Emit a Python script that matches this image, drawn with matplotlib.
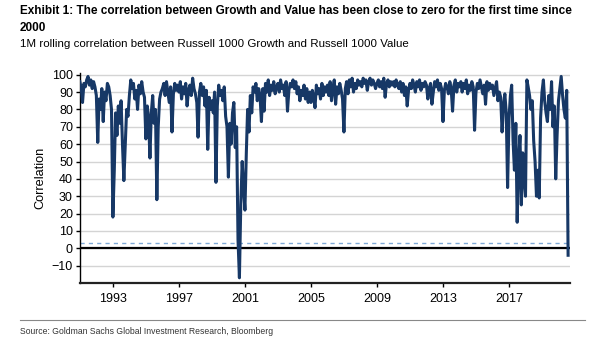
import numpy as np
import pandas as pd
import matplotlib.pyplot as plt
import matplotlib.dates as mdates
from matplotlib.lines import Line2D

# monthly readings of the 1M rolling correlation, Jan 1991 onwards
corr_1991_1999 = [
    96, 92, 84, 95, 93, 97, 99, 94, 97, 92, 96, 93,   # 1991
    88, 61, 86, 80, 92, 73, 90, 85, 95, 93, 88, 80,   # 1992
    18, 45, 78, 65, 82, 72, 85, 60, 39, 59, 80, 76,   # 1993
    88, 97, 92, 95, 86, 91, 80, 94, 89, 96, 90, 87,   # 1994
    63, 82, 75, 52, 78, 88, 72, 80, 28, 70, 86, 90,   # 1995
    92, 95, 88, 96, 90, 84, 93, 67, 89, 95, 91, 94,   # 1996
    90, 96, 86, 93, 89, 95, 82, 91, 94, 88, 98, 92,   # 1997
    89, 84, 64, 90, 95, 88, 93, 82, 91, 57, 87, 80,   # 1998
    85, 78, 90, 38, 82, 94, 88, 91, 85, 93, 76, 70,   # 1999
]
corr_2000_2009 = [
    41, 72, 60, 78, 84, 58, 70, 5, -17, 25, 50, 35,   # 2000
    22, 55, 80, 67, 88, 78, 93, 90, 95, 85, 92, 88,   # 2001
    73, 92, 79, 95, 90, 97, 88, 94, 91, 96, 89, 93,   # 2002
    95, 90, 97, 92, 94, 88, 96, 79, 91, 95, 93, 97,   # 2003
    92, 96, 89, 93, 85, 91, 88, 94, 86, 92, 84, 90,   # 2004
    84, 91, 87, 81, 94, 89, 92, 86, 95, 88, 93, 90,   # 2005
    94, 88, 96, 85, 92, 97, 83, 93, 89, 95, 91, 86,   # 2006
    67, 92, 96, 89, 97, 93, 98, 90, 95, 92, 97, 94,   # 2007
    96, 93, 98, 95, 97, 91, 96, 98, 94, 97, 95, 92,   # 2008
    95, 97, 93, 96, 92, 98, 87, 95, 97, 93, 96, 94,   # 2009
]
corr_2010_2020 = [
    96, 93, 97, 94, 92, 96, 90, 95, 88, 93, 82, 91,   # 2010
    95, 92, 97, 94, 90, 96, 93, 97, 91, 95, 93, 96,   # 2011
    94, 86, 92, 95, 83, 90, 96, 93, 97, 91, 95, 92,   # 2012
    73, 91, 95, 93, 89, 96, 92, 79, 94, 97, 90, 95,   # 2013
    93, 96, 90, 95, 92, 97, 89, 94, 91, 96, 93, 68,   # 2014
    90, 95, 92, 97, 93, 89, 94, 83, 96, 91, 95, 92,   # 2015
    94, 88, 92, 96, 85, 90, 87, 67, 82, 89, 78, 35,   # 2016
    75, 88, 94, 62, 45, 72, 15, 50, 65, 25, 55, 40,   # 2017
    30, 97, 93, 88, 80, 85, 62, 50, 30, 45, 29, 75,   # 2018
    90, 97, 85, 78, 73, 88, 80, 96, 70, 82, 40, 65,   # 2019
    85, 92, 99, 88, 80, 75, 91, -4,                   # 2020
]

corr = corr_1991_1999 + corr_2000_2009 + corr_2010_2020
dates = pd.date_range('1991-01-01', periods=len(corr), freq='MS')

tick_years = [1993, 1997, 2001, 2005, 2009, 2013, 2017]
y_ticks = [-10, 0, 10, 20, 30, 40, 50, 60, 70, 80, 90, 100]
dash_level = 3

plt.rcParams['font.family'] = ['Liberation Sans', 'DejaVu Sans']

fig = plt.figure(figsize=(6.05, 3.41), dpi=100)
ax = fig.add_axes([0.132, 0.170, 0.810, 0.616])

for v in y_ticks:
    ax.axhline(v, color='#d4d4d4', lw=1.0, zorder=0)
ax.axhline(dash_level, color='#7fa9d6', lw=1.0, ls=(0, (3, 3)), zorder=1)
ax.axhline(0, color='black', lw=1.6, zorder=2)

ax.plot(dates, corr, color='#173866', lw=2.2, zorder=3)

ax.set_ylim(-20, 101)
ax.set_xlim(pd.Timestamp('1991-01-01'), pd.Timestamp('2020-09-10'))
ax.set_yticks(y_ticks)
ax.set_xticks([pd.Timestamp(f'{y}-01-01') for y in tick_years])
ax.xaxis.set_major_formatter(mdates.DateFormatter('%Y'))
ax.tick_params(axis='both', labelsize=9, length=3, width=1, color='black', pad=2)
ax.tick_params(axis='x', pad=4)
ax.set_ylabel('Correlation', fontsize=9.2, labelpad=4)

for s in ['top', 'right']:
    ax.spines[s].set_visible(False)
ax.spines['left'].set_linewidth(1.0)
ax.spines['bottom'].set_linewidth(1.6)
ax.spines['bottom'].set_color('#222222')


# header/footer texts: squeeze font size so each line spans the same width as in the source
def fit_text(y_px, s, width_px, size, **kw):
    t = fig.text(20 / 605, 1 - y_px / 341, s, fontsize=size, va='center', ha='left', **kw)
    r = fig.canvas.get_renderer()
    w = t.get_window_extent(renderer=r).width
    t.set_fontsize(size * width_px / w)
    return t


title = fit_text(11, 'Exhibit 1: The correlation between Growth and Value has been close to zero for the first time since',
                 547, 9, fontweight='bold')
fig.text(20 / 605, 1 - 28 / 341, '2000', fontsize=title.get_fontsize(), fontweight='bold', va='center', ha='left')
fit_text(44, '1M rolling correlation between Russell 1000 Growth and Russell 1000 Value', 388, 9)

fig.add_artist(Line2D([20 / 605, 585 / 605], [1 - 320 / 341, 1 - 320 / 341], color='#888888', lw=0.8))
fit_text(332, 'Source: Goldman Sachs Global Investment Research, Bloomberg', 250, 7, color='#333333')

fig.savefig('out.png', dpi=100)
